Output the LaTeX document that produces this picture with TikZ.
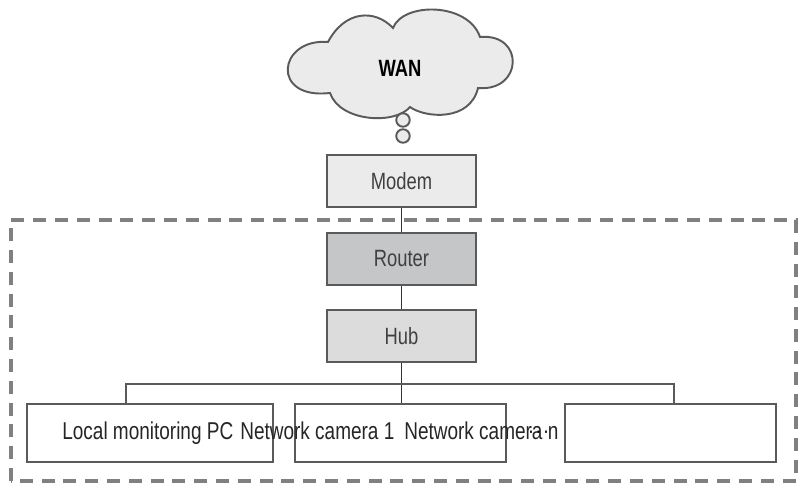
\documentclass[tikz,border=0pt]{standalone}
\usepackage{fontspec}
\usepackage{xcolor}
\setmainfont[FakeStretch=0.78]{Liberation Sans}
\usetikzlibrary{positioning}
\definecolor{boxedge}{HTML}{5A5A5A}
\definecolor{lightbox}{HTML}{EBEBEB}
\definecolor{midbox}{HTML}{DCDCDC}
\definecolor{darkbox}{HTML}{C4C6C8}
\tikzset{
  netbox/.style={draw=boxedge, line width=1.1pt, minimum width=2.98cm, minimum height=1.04cm, font=\fontsize{13.4}{16}\selectfont, text=black!75},
  endbox/.style={draw=boxedge, line width=1.1pt, fill=white, minimum height=1.16cm},
  endlabel/.style={font=\fontsize{13.85}{16}\selectfont, text=black!85, anchor=base west, inner sep=0pt},
  link/.style={draw=black!80, line width=0.9pt},
  buslink/.style={draw=boxedge, line width=1.1pt},
  bubble/.style={circle, draw=boxedge, line width=1.1pt, fill=lightbox, minimum size=0.27cm, inner sep=0pt}
}
\begin{document}
\begin{tikzpicture}
  \useasboundingbox (0, 0) rectangle (16.02, 9.68);

  % Network boundary
  \draw[gray, line width=1.8pt, dash pattern=on 7.4pt off 5pt] (0.22, 0.06) rectangle (15.92, 5.28);

  % Cloud
  \draw[boxedge, line width=1.1pt, fill=lightbox]
    (7.86, 9.12) .. controls (8.06, 9.64) and (9.36, 9.64) .. (9.60, 8.94)
    .. controls (10.5, 9.02) and (10.46, 7.84) .. (9.56, 7.92)
    .. controls (9.4, 7.24) and (8.5, 7.32) .. (8.20, 7.54)
    .. controls (7.9, 7.18) and (6.8, 7.24) .. (6.60, 7.82)
    .. controls (5.4, 7.68) and (5.56, 8.92) .. (6.56, 8.84)
    .. controls (6.9, 9.48) and (7.5, 9.5) .. cycle;
  \node[font=\fontsize{13.4}{15}\selectfont\bfseries] (wan) at (8.0, 8.32) {WAN};
  \node[bubble] (bubbletop) at (8.06, 7.28) {};
  \node[bubble] (bubblelow) at (8.06, 6.96) {};

  % Central column
  \node[netbox, fill=lightbox] (modem) at (8.03, 6.06) {Modem};
  \node[netbox, fill=darkbox, below=0.48cm of modem] (router) {Router};
  \node[netbox, fill=midbox, below=0.46cm of router] (hub) {Hub};

  % End devices
  \node[endbox, minimum width=4.92cm] (monitor) at (3.0, 1.02) {};
  \node[endbox, minimum width=4.22cm] (camone) at (8.01, 1.02) {};
  \node[endbox, minimum width=4.22cm] (camn) at (13.41, 1.02) {};

  % Links
  \coordinate (busleft) at (2.52, 2.0);
  \coordinate (busright) at (13.48, 2.0);
  \draw[link] (modem) -- (router);
  \draw[link] (router) -- (hub);
  \draw[link] (hub.south) -- (hub.south |- camone.north);
  \draw[buslink] (busleft |- monitor.north) -- (busleft) -- (busright) -- (busright |- camn.north);

  % Labels run across the boxes
  \node[endlabel] (monitortext) at (1.24, 0.88) {Local monitoring PC};
  \node[endlabel] (camonetext) at (4.80, 0.88) {Network camera 1};
  \node[endlabel] (camntext) at (8.08, 0.88) {Network camera n};
  \node[font=\bfseries\small, inner sep=0pt] (dots) at (10.78, 1.0) {· · ·};
\end{tikzpicture}
\end{document}
